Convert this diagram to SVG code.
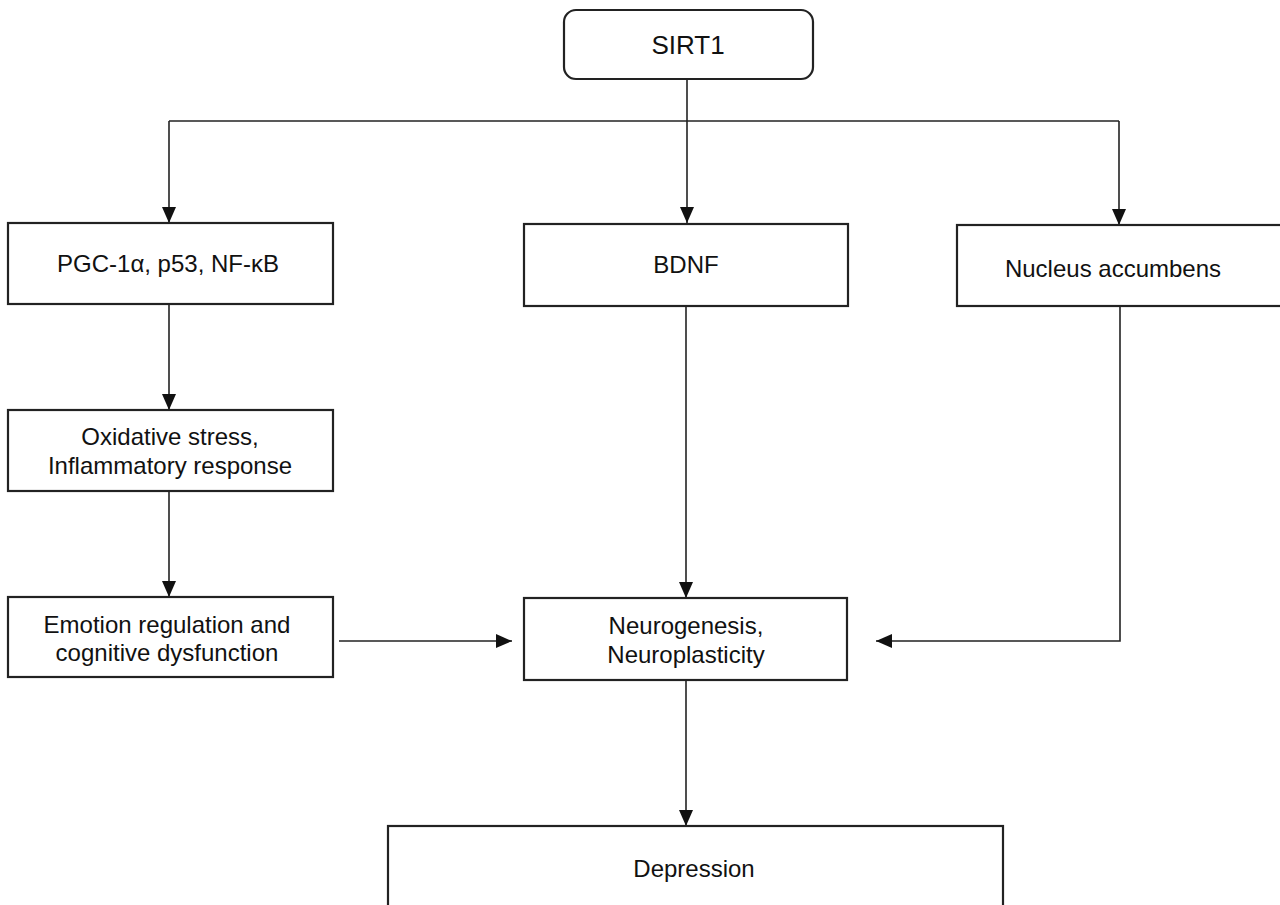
<svg xmlns="http://www.w3.org/2000/svg" width="1280" height="905" viewBox="0 0 1280 905">
<style>
.box{fill:#fff;stroke:#222;stroke-width:2.2}
.t{font-family:"Liberation Sans",Arial,sans-serif;font-size:24px;fill:#111;text-anchor:middle}
.c{fill:none;stroke:#222;stroke-width:1.6}
</style>
<defs>
<marker id="ah" viewBox="0 0 16 14" refX="16" refY="7" markerWidth="16" markerHeight="14" markerUnits="userSpaceOnUse" orient="auto">
<path d="M0,0 L16,7 L0,14 Z" fill="#111"/>
</marker>
</defs>
<rect width="1280" height="905" fill="#fff"/>
<g id="connectors">
<line class="c" x1="687" y1="79" x2="687" y2="223" marker-end="url(#ah)"/>
<line class="c" x1="169" y1="121" x2="1119" y2="121"/>
<line class="c" x1="169" y1="121" x2="169" y2="223" marker-end="url(#ah)"/>
<line class="c" x1="1119" y1="121" x2="1119" y2="225" marker-end="url(#ah)"/>
<line class="c" x1="169" y1="304" x2="169" y2="410" marker-end="url(#ah)"/>
<line class="c" x1="169" y1="491" x2="169" y2="597" marker-end="url(#ah)"/>
<line class="c" x1="686" y1="306" x2="686" y2="598" marker-end="url(#ah)"/>
<line class="c" x1="339" y1="641" x2="512" y2="641" marker-end="url(#ah)"/>
<polyline class="c" points="1120,306 1120,641 876,641" marker-end="url(#ah)"/>
<line class="c" x1="686" y1="680" x2="686" y2="826" marker-end="url(#ah)"/>
</g>
<g id="sirt1">
<rect class="box" x="564" y="10" width="249" height="69" rx="12"/>
<text class="t" x="688" y="54" style="font-size:26px">SIRT1</text>
</g>
<g id="pgc">
<rect class="box" x="8" y="223" width="325" height="81"/>
<text class="t" x="168" y="272">PGC-1α, p53, NF-κB</text>
</g>
<g id="bdnf">
<rect class="box" x="524" y="224" width="324" height="82"/>
<text class="t" x="686" y="273">BDNF</text>
</g>
<g id="nucleus">
<rect class="box" x="957" y="225" width="330" height="81"/>
<text class="t" x="1113" y="277">Nucleus accumbens</text>
</g>
<g id="oxidative">
<rect class="box" x="8" y="410" width="325" height="81"/>
<text class="t" x="170" y="445">Oxidative stress,</text>
<text class="t" x="170" y="474">Inflammatory response</text>
</g>
<g id="emotion">
<rect class="box" x="8" y="597" width="325" height="80"/>
<text class="t" x="167" y="633">Emotion regulation and</text>
<text class="t" x="167" y="661">cognitive dysfunction</text>
</g>
<g id="neuro">
<rect class="box" x="524" y="598" width="323" height="82"/>
<text class="t" x="686" y="634">Neurogenesis,</text>
<text class="t" x="686" y="663">Neuroplasticity</text>
</g>
<g id="depression">
<rect class="box" x="388" y="826" width="615" height="90"/>
<text class="t" x="694" y="877">Depression</text>
</g>
</svg>
